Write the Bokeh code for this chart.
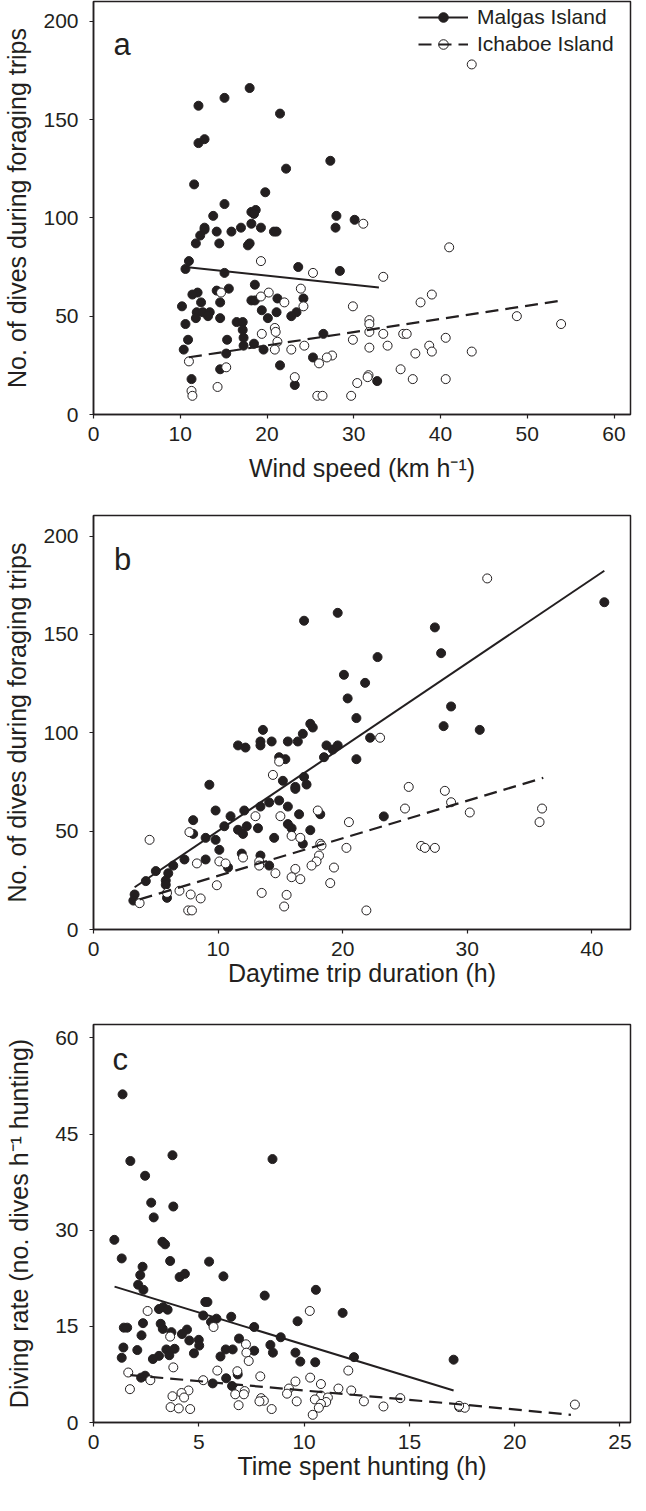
from bokeh.plotting import figure
from bokeh.models import Range1d, Label, Legend, LegendItem, FixedTicker
from bokeh.layouts import column
from bokeh.embed import file_html
from bokeh.resources import INLINE

INK = "#231f20"
FONT = "Liberation Sans"

# ---------------- Panel a: wind speed ----------------
a_malgas_x = [18.0, 15.1, 12.1, 21.5, 12.1, 12.8, 27.3, 22.2, 11.6, 19.8, 15.1, 13.8, 18.2, 18.7, 18.5,
              28.0, 30.1, 18.2, 27.9, 12.8, 12.8, 12.3, 11.8, 14.2, 14.5, 15.9, 17.0, 17.8, 18.0, 19.3,
              20.8, 21.1, 11.0, 10.6, 15.1, 23.6, 28.4, 18.6, 15.6, 12.0, 14.2, 11.4, 12.4, 14.6, 10.2,
              18.2, 18.6, 21.2, 24.2, 11.9, 12.6, 13.4, 13.2, 19.4, 21.1, 23.4, 22.8, 20.1, 11.8, 14.6,
              10.6, 16.5, 17.2, 17.2, 10.9, 15.4, 17.3, 17.3, 18.5, 26.5, 10.4, 15.3, 19.6, 25.3, 21.5,
              14.6, 11.3, 23.2, 32.7]
a_malgas_y = [166, 161, 157, 153, 138, 140, 129, 125, 117, 113, 107, 101, 103, 104, 102,
              101, 99, 97, 95, 95, 94, 91, 87, 93, 87, 93, 95, 86, 87, 95,
              93, 93, 78, 74, 72, 75, 73, 66, 64, 62, 63, 61, 57, 57, 55,
              58, 58, 59, 59, 52, 52, 52, 50, 53, 52, 52, 50, 49, 49, 49,
              46, 47, 47, 43, 38, 38, 39, 35, 36, 41, 33, 31, 33, 29, 25,
              23, 18, 15, 17]
a_ichaboe_x = [43.6, 31.1, 41.0, 19.3, 25.3, 33.4, 23.9, 20.2, 39.0, 19.3, 14.7, 22.0, 37.7, 24.2, 29.9,
               48.8, 31.8, 31.8, 53.9, 20.9, 21.0, 31.8, 33.4, 19.4, 35.7, 36.1, 40.6, 21.2, 29.9, 24.3,
               33.9, 38.7, 20.9, 22.8, 31.8, 39.0, 43.6, 37.1, 27.5, 26.9, 11.0, 26.0, 15.3, 35.4, 31.7,
               23.2, 36.8, 40.6, 30.4, 31.6, 14.3, 11.3, 11.4, 25.8, 26.4, 29.7]
a_ichaboe_y = [178, 97, 85, 78, 72, 70, 64, 62, 61, 60, 62, 57, 57, 55, 55,
               50, 48, 46, 46, 44, 42, 42, 41, 41, 41, 41, 39, 37, 38, 35,
               35, 35, 33, 33, 34, 32, 32, 31, 30, 29, 27, 26, 24, 23, 20,
               19, 18, 18, 16, 19, 14, 12, 9.5, 9.5, 9.5, 9.5]
a_fit_malgas_x = [10.6, 32.9]
a_fit_malgas_y = [75.0, 64.6]
a_fit_ichaboe_x = [11.0, 54.0]
a_fit_ichaboe_y = [29.1, 58.0]

# ---------------- Panel b: daytime trip duration ----------------
b_malgas_x = [41.0, 19.6, 16.9, 27.4, 27.9, 22.8, 20.1, 21.8, 20.4, 28.7, 21.1, 28.1, 31.0, 13.6, 17.4,
              17.6, 16.8, 22.2, 11.6, 12.2, 13.4, 13.4, 14.3, 15.6, 16.4, 18.7, 19.2, 19.6, 18.5, 14.9,
              15.4, 21.1, 16.9, 17.1, 15.2, 16.2, 16.2, 9.3, 9.8, 12.1, 13.4, 14.1, 14.9, 15.6, 16.5,
              18.2, 11.0, 10.5, 13.2, 11.6, 12.0, 12.3, 15.6, 15.9, 17.4, 23.3, 8.0, 8.0, 9.0, 9.8,
              14.5, 16.8, 10.1, 7.3, 9.0, 13.4, 11.9, 14.1, 10.8, 6.4, 5.0, 6.0, 5.8, 4.2, 5.8,
              5.9, 3.3, 3.2]
b_malgas_y = [166.4, 161, 157, 153.6, 140.5, 138.5, 129.5, 125.4, 117.5, 113.4, 107.5, 103.4, 101.5, 101.5, 104.6,
              102.7, 99.5, 97.5, 93.6, 92.5, 95.6, 93.6, 95.6, 95.6, 95.6, 93.6, 91.5, 93.6, 87.6, 87.6,
              86.6, 86.6, 77.6, 73.7, 75.6, 72.5, 71.5, 73.6, 60.5, 60.5, 62.5, 64.6, 65.6, 62.5, 58.6,
              58.6, 57.6, 52.5, 51.5, 50.7, 48.6, 52.5, 53.6, 51.5, 50.5, 57.5, 55.6, 48.6, 46.6, 45.6,
              46.6, 43.6, 40.5, 35.6, 35.6, 37.6, 38.6, 32.5, 31.5, 32.5, 29.7, 28.6, 24.9, 24.6, 22.7,
              16.1, 17.8, 14.7]
b_ichaboe_x = [31.6, 23.0, 14.9, 14.4, 25.3, 28.2, 28.7, 18.0, 25.0, 30.2, 36.0, 35.8, 13.0, 15.0, 20.5,
               7.7, 4.5, 15.9, 16.6, 18.2, 26.3, 26.6, 27.4, 20.3, 12.0, 10.1, 10.6, 13.3, 8.3, 13.3,
               16.2, 14.6, 18.1, 17.9, 17.5, 19.3, 15.9, 16.6, 19.0, 9.9, 6.9, 5.9, 7.8, 8.6, 3.7,
               13.5, 15.5, 15.3, 7.6, 7.9, 21.9, 18.3]
b_ichaboe_y = [178.5, 97.5, 85.4, 78.6, 72.5, 70.5, 64.7, 60.5, 61.5, 59.5, 61.5, 54.6, 57.6, 57.6, 54.6,
               49.5, 45.6, 47.6, 46.6, 43.6, 42.5, 41.5, 41.5, 41.5, 36.6, 34.6, 33.6, 34.6, 33.6, 32.5,
               30.8, 28.6, 37.6, 34.6, 32.5, 31.5, 26.6, 25.6, 23.6, 22.5, 19.7, 18.6, 17.8, 15.8, 13.4,
               18.6, 17.6, 11.7, 9.7, 9.7, 9.7, 42.7]
b_fit_malgas_x = [3.3, 41.0]
b_fit_malgas_y = [21.5, 182.4]
b_fit_ichaboe_x = [3.7, 36.1]
b_fit_ichaboe_y = [15.3, 77.1]

# ---------------- Panel c: time spent hunting ----------------
c_malgas_x = [1.38, 1.75, 3.75, 8.5, 2.45, 2.74, 3.79, 2.86, 0.99, 3.27, 3.40, 1.34, 3.64, 5.49, 2.33,
              2.22, 4.09, 4.34, 6.17, 2.12, 2.37, 10.56, 8.13, 5.31, 5.41, 11.83, 3.11, 3.31, 3.52, 6.54,
              5.21, 5.84, 5.58, 3.19, 2.35, 1.44, 1.60, 3.29, 7.63, 9.69, 3.70, 4.44, 4.20, 2.28, 4.55,
              5.0, 5.02, 6.91, 8.89, 8.40, 1.42, 2.08, 3.46, 3.85, 6.28, 6.61, 7.63, 8.52, 9.59, 3.11,
              3.60, 4.77, 6.03, 2.82, 1.34, 9.82, 10.53, 12.37, 17.1, 2.26, 2.45, 6.30, 5.66, 6.58, 6.85]
c_malgas_y = [51.2, 40.8, 41.7, 41.1, 38.5, 34.3, 33.7, 32.0, 28.5, 28.2, 27.8, 25.6, 25.2, 25.1, 24.3,
              23.0, 22.7, 23.2, 22.8, 21.5, 20.7, 20.7, 19.8, 18.8, 18.8, 17.1, 17.7, 18.0, 17.6, 16.5,
              16.7, 16.2, 15.7, 15.4, 15.5, 14.8, 14.8, 14.6, 14.9, 15.8, 14.1, 14.5, 13.8, 13.6, 12.8,
              12.9, 12.0, 13.1, 13.3, 12.1, 11.7, 11.3, 11.4, 11.5, 11.4, 11.4, 11.2, 10.9, 10.9, 10.4,
              10.5, 10.8, 10.3, 9.9, 10.1, 9.5, 9.4, 10.2, 9.8, 7.0, 7.3, 6.9, 6.1, 5.7, 7.5]
c_ichaboe_x = [2.57, 10.27, 5.70, 3.64, 7.24, 7.26, 7.37, 3.79, 5.88, 6.83, 12.1, 1.65, 7.92, 10.29, 9.59,
               2.70, 5.21, 10.8, 11.63, 12.24, 1.73, 6.96, 7.18, 9.28, 9.19, 4.51, 4.18, 3.75, 4.30, 6.73,
               7.14, 7.96, 8.09, 7.88, 10.8, 11.13, 10.51, 9.65, 12.84, 14.57, 13.77, 11.05, 10.8, 10.7, 3.66,
               4.05, 4.59, 6.89, 8.46, 10.41, 17.37, 17.63, 22.86, 17.36]
c_ichaboe_y = [17.4, 17.4, 14.9, 13.4, 12.2, 10.9, 9.6, 8.6, 8.1, 8.0, 8.1, 7.8, 7.2, 7.0, 6.4,
               6.6, 6.6, 6.0, 5.3, 5.0, 5.2, 5.2, 4.9, 5.3, 4.5, 5.0, 4.6, 4.1, 3.9, 4.4,
               4.4, 3.8, 3.4, 3.3, 4.2, 3.9, 3.6, 3.3, 3.3, 3.8, 2.5, 3.2, 2.9, 2.3, 2.4,
               2.2, 2.1, 2.7, 2.1, 1.2, 2.4, 2.3, 2.8, 2.6]
c_fit_malgas_x = [1.0, 17.1]
c_fit_malgas_y = [21.2, 5.0]
c_fit_ichaboe_x = [1.75, 17.35, 22.67]
c_fit_ichaboe_y = [7.4, 2.85, 1.2]

legend_labels = ["Malgas Island", "Ichaboe Island"]


def make_panel(height, top, bottom, xr, yr, xticks, yticks, xlabel, ylabel,
               xlabel_standoff, ylabel_standoff):
    p = figure(width=638, height=height, output_backend="svg", toolbar_location=None,
               x_range=Range1d(*xr), y_range=Range1d(*yr),
               min_border_left=90, min_border_right=8,
               min_border_top=top, min_border_bottom=bottom)
    p.xgrid.visible = False
    p.ygrid.visible = False
    p.outline_line_color = INK
    p.outline_line_width = 1.5
    p.outline_line_alpha = 1.0
    p.background_fill_color = "white"
    p.border_fill_color = "white"
    p.xaxis.ticker = FixedTicker(ticks=xticks)
    p.yaxis.ticker = FixedTicker(ticks=yticks)
    p.xaxis.axis_label = xlabel
    p.yaxis.axis_label = ylabel
    for ax in (p.xaxis[0], p.yaxis[0]):
        ax.axis_line_color = INK
        ax.axis_line_width = 1.5
        ax.major_tick_line_color = INK
        ax.major_tick_line_width = 1.2
        ax.major_tick_out = 4
        ax.major_tick_in = 0
        ax.minor_tick_line_color = None
        ax.major_label_text_font = FONT
        ax.major_label_text_font_size = "21px"
        ax.major_label_text_color = INK
        ax.axis_label_text_font = FONT
        ax.axis_label_text_font_size = "25px"
        ax.axis_label_text_font_style = "normal"
        ax.axis_label_text_color = INK
    p.xaxis.major_label_standoff = 8
    p.yaxis.major_label_standoff = 11
    p.xaxis.axis_label_standoff = xlabel_standoff
    p.yaxis.axis_label_standoff = ylabel_standoff
    return p


def add_data(p, mx, my, ix, iy, fmx, fmy, fix, fiy):
    sm = p.scatter(mx, my, size=9, marker="circle", fill_color=INK, line_color=INK, line_width=1)
    si = p.scatter(ix, iy, size=9, marker="circle", fill_color="white", line_color=INK, line_width=1)
    lm = p.line(fmx, fmy, line_color=INK, line_width=2)
    li = p.line(fix, fiy, line_color=INK, line_width=2.2, line_dash="13 7")
    return sm, si, lm, li


def panel_letter(p, x, y, t):
    p.add_layout(Label(x=x, y=y, text=t, text_font=FONT, text_font_size="31px",
                       text_color=INK, text_baseline="alphabetic", text_align="left"))


# Panel a
pa = make_panel(491, 1, 77, (0, 61.9), (0, 210), [0, 10, 20, 30, 40, 50, 60], [0, 50, 100, 150, 200],
                "Wind speed (km h\u207b\u00b9)", "No. of dives during foraging trips", 10, 9)
sm, si, lm, li = add_data(pa, a_malgas_x, a_malgas_y, a_ichaboe_x, a_ichaboe_y,
                          a_fit_malgas_x, a_fit_malgas_y, a_fit_ichaboe_x, a_fit_ichaboe_y)
panel_letter(pa, 2.3, 188, "a")
legend = Legend(items=[LegendItem(label=legend_labels[0], renderers=[sm, lm]),
                       LegendItem(label=legend_labels[1], renderers=[si, li])],
                location=(321, 354), glyph_width=50, glyph_height=24, label_standoff=9,
                spacing=3, padding=4, margin=0, border_line_alpha=0, background_fill_alpha=0,
                label_text_font=FONT, label_text_font_size="21px", label_text_color=INK)
pa.add_layout(legend)

# Panel b
pb = make_panel(504, 24, 66, (0, 43.1), (0, 210.5), [0, 10, 20, 30, 40], [0, 50, 100, 150, 200],
                "Daytime trip duration (h)", "No. of dives during foraging trips", 0, 9)
add_data(pb, b_malgas_x, b_malgas_y, b_ichaboe_x, b_ichaboe_y,
         b_fit_malgas_x, b_fit_malgas_y, b_fit_ichaboe_x, b_fit_ichaboe_y)
panel_letter(pb, 1.64, 188, "b")

# Panel c
pc = make_panel(500, 29, 73, (0, 25.5), (0, 62.1), [0, 5, 10, 15, 20, 25], [0, 15, 30, 45, 60],
                "Time spent hunting (h)", "Diving rate (no. dives h\u207b\u00b9 hunting)", 0, 19)
add_data(pc, c_malgas_x, c_malgas_y, c_ichaboe_x, c_ichaboe_y,
         c_fit_malgas_x, c_fit_malgas_y, c_fit_ichaboe_x, c_fit_ichaboe_y)
panel_letter(pc, 0.9, 56.6, "c")

layout = column(pa, pb, pc, spacing=0)
open("out.html", "w").write(file_html(layout, INLINE))
